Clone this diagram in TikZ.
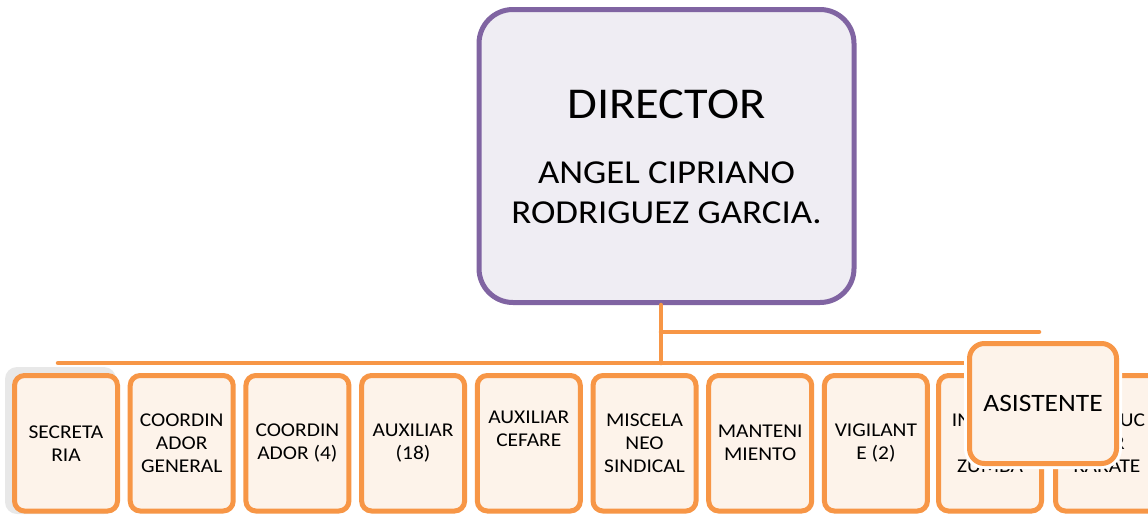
\documentclass[tikz,border=0pt]{standalone}
\usepackage{fontspec}
\setmainfont{Carlito}[FakeStretch=1.1]
\definecolor{dirpurple}{HTML}{8064A2}
\definecolor{dirfill}{HTML}{EFEDF3}
\definecolor{orng}{HTML}{F79646}
\definecolor{boxfill}{HTML}{FDF3EA}
\definecolor{shadowgray}{HTML}{E8E8E8}
\begin{document}
\begin{tikzpicture}[x=1pt,y=-1pt,
  dirbox/.style={draw=dirpurple,fill=dirfill,line width=5pt,rounded corners=34pt,
    minimum width=375pt,minimum height=293pt,inner sep=0pt},
  staffbox/.style={draw=orng,fill=boxfill,line width=5pt,rounded corners=10pt,
    minimum width=103pt,minimum height=135.5pt,inner sep=0pt,align=center,
    font=\fontsize{19.5}{23}\selectfont},
  asbox/.style={draw=orng,fill=boxfill,line width=5pt,rounded corners=15pt,
    minimum width=147pt,minimum height=120pt,inner sep=0pt,
    font=\fontsize{25}{29}\selectfont,
    preaction={draw=white,line width=11pt}},
  conn/.style={draw=orng,line width=4.5pt,line cap=round},
  plain/.style={inner sep=0pt,align=center}
]
\useasboundingbox (0,0) rectangle (1148,514);
\fill[white] (0,0) rectangle (1148,514);

% director
\node[dirbox] (dir) at (666.5,156) {};
\node[plain,font=\fontsize{44}{50}\selectfont] (dirtitle) at (666.5,104) {DIRECTOR};
\node[plain,font=\fontsize{33.5}{40}\selectfont] (dirname) at (666.5,192.5) {ANGEL CIPRIANO\\RODRIGUEZ GARCIA.};

% connectors
\coordinate (t1) at (661,363);
\coordinate (t2) at (661,332);
\coordinate (busL) at (58,363);
\coordinate (busR) at (1100,363);
\coordinate (aR) at (1039,332);
\draw[conn] (dir.south -| t1) -- (t1);
\draw[conn] (busL) -- (busR);
\draw[conn] (t2) -- (aR);

% shadow behind first box
\fill[shadowgray,rounded corners=12pt] (5,367) rectangle (116,514);

% staff boxes
\node[staffbox] (b1) at (66,443.25) {SECRETA\\RIA};
\node[staffbox] (b2) at (181.7,443.25) {COORDIN\\ADOR\\GENERAL};
\node[staffbox] (b3) at (297.4,443.25) {COORDIN\\ADOR (4)};
\node[staffbox] (b4) at (413.1,443.25) {AUXILIAR\\(18)};
\node[staffbox] (b5) at (528.8,443.25) {AUXILIAR\\CEFARE\\\strut};
\node[staffbox] (b6) at (644.5,443.25) {MISCELA\\NEO\\SINDICAL};
\node[staffbox] (b7) at (760.2,443.25) {MANTENI\\MIENTO};
\node[staffbox] (b8) at (875.9,443.25) {VIGILANT\\E (2)};
\node[staffbox] (b9) at (990,443.25) {INSTRUC\\TOR\\ZUMBA};
\node[staffbox] (b10) at (1107,443.25) {INSTRUC\\TOR\\KARATE};

% assistant
\node[asbox] (as) at (1043,403.5) {ASISTENTE};
\end{tikzpicture}
\end{document}
